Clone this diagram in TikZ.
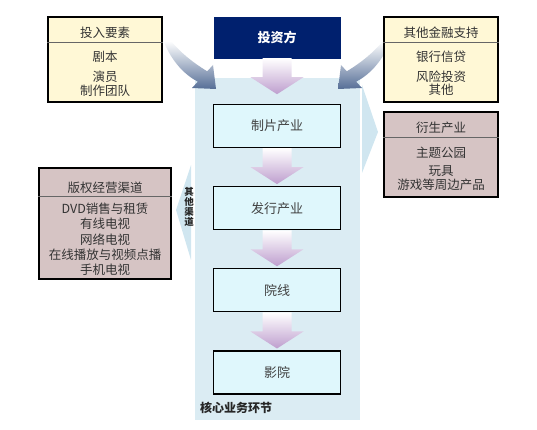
\documentclass[tikz,border=0pt]{standalone}
\usepackage{fontspec}
\setmainfont{Noto Sans CJK SC}
\usetikzlibrary{calc,chains,positioning}

\definecolor{investfill}{RGB}{0,32,110}
\definecolor{regionfill}{RGB}{219,236,243}
\definecolor{chevfill}{RGB}{208,230,240}
\definecolor{corefill}{RGB}{223,247,252}
\definecolor{creamfill}{RGB}{255,248,214}
\definecolor{mauvefill}{RGB}{214,196,196}
\definecolor{flowpurple}{RGB}{190,158,206}
\definecolor{bendblue}{RGB}{85,110,150}

\begin{document}
\begin{tikzpicture}[
            x=1pt, y=1pt,
            start chain = going below,
            node distance = 38pt,
            CoreBox/.style={draw, line width=1.2pt, fill=corefill, text=black!75, minimum width=127pt, minimum height=43pt, font=\fontsize{13}{15}\selectfont, on chain},
            SideBox/.style={draw, line width=1.2pt, minimum width=114pt, minimum height=85pt},
            BoxText/.style={inner sep=0pt, text=black!80, font=\fontsize{12.5}{15}\selectfont},
            HeadLine/.style={draw=black!60, line width=0.6pt},
            FlowArrow/.style={top color=white, bottom color=flowpurple},
            BendArrow/.style={top color=white, bottom color=bendblue},
            ]
            \useasboundingbox (0,0) rectangle (537,430);

            % core region
            \node[fill=regionfill, minimum width=165pt, minimum height=342pt, inner sep=0pt] (core) at (277.5,181) {};
            \node[anchor=west, inner sep=0pt, text=black!85, font=\fontsize{12}{14}\selectfont\bfseries] (corelabel) at ([xshift=5pt, yshift=12pt]core.south west) {核心业务环节};

            % side chevrons
            \fill[chevfill] (191,265) -- (176,220) -- (191,170) -- cycle;
            \fill[chevfill] (362,345) -- (378,298) -- (362,257) -- cycle;
            \node[inner sep=0pt, align=center, text=black!85, font=\fontsize{9.5}{10}\selectfont\bfseries] (otherchan) at (189,223) {其\\他\\渠\\道};

            % bent arrows into the core
            \shade[BendArrow] (164,388) .. controls (172,368) and (185,355) .. (197.8,348.3) -- (192,342) -- (216,341) -- (213,365) -- (207.2,358.7) .. controls (192,368) and (180,378) .. (171,389) -- cycle;
            \shade[BendArrow] (390,388) .. controls (382,368) and (369,355) .. (356.2,348.3) -- (362,342) -- (338,341) -- (341,365) -- (346.8,358.7) .. controls (362,368) and (374,378) .. (383,389) -- cycle;

            % investor and core chain
            \node[fill=investfill, draw=investfill, minimum width=126pt, minimum height=41pt, text=white, font=\fontsize{13}{15}\selectfont\bfseries] (touzi) at (277,392.5) {投资方};
            \node[CoreBox] (zhipian) at (277,304) {制片产业};
            \node[CoreBox] (faxing) {发行产业};
            \node[CoreBox] (yuanxian) {院线};
            \node[CoreBox] (yingyuan) {影院};

            \foreach \a/\b in {touzi/zhipian, zhipian/faxing, faxing/yuanxian, yuanxian/yingyuan}
                \shade[FlowArrow] ($(\a.south)+(-14.5,0)$) -- ($(\a.south)+(14.5,0)$) -- ($(\a.south)+(14.5,-19)$) -- ($(\a.south)+(26.5,-19)$)
                    -- ($(\a.south)!36pt!(\b.north)$) -- ($(\a.south)+(-26.5,-19)$) -- ($(\a.south)+(-14.5,-19)$) -- cycle;

            % input factors
            \node[SideBox, fill=creamfill] (touru) at (105,370.5) {};
            \draw[HeadLine] ([yshift=-26pt]touru.north west) -- ([yshift=-26pt]touru.north east);
            \node[BoxText] (touru-h) at ([yshift=-16pt]touru.north) {投入要素};
            \node[BoxText] (touru-1) at ([yshift=-40pt]touru.north) {剧本};
            \node[BoxText] (touru-2) at ([yshift=-60pt]touru.north) {演员};
            \node[BoxText] (touru-3) at ([yshift=-74pt]touru.north) {制作团队};

            % other finance
            \node[SideBox, fill=creamfill] (jinrong) at (441,370.5) {};
            \draw[HeadLine] ([yshift=-26pt]jinrong.north west) -- ([yshift=-26pt]jinrong.north east);
            \node[BoxText] (jinrong-h) at ([yshift=-16pt]jinrong.north) {其他金融支持};
            \node[BoxText] (jinrong-1) at ([yshift=-40pt]jinrong.north) {银行信贷};
            \node[BoxText] (jinrong-2) at ([yshift=-60pt]jinrong.north) {风险投资};
            \node[BoxText] (jinrong-3) at ([yshift=-73pt]jinrong.north) {其他};

            % derived industries
            \node[SideBox, fill=mauvefill] (yansheng) at (441,275.5) {};
            \draw[HeadLine] ([yshift=-26pt]yansheng.north west) -- ([yshift=-26pt]yansheng.north east);
            \node[BoxText] (yansheng-h) at ([yshift=-16pt]yansheng.north) {衍生产业};
            \node[BoxText] (yansheng-1) at ([yshift=-41pt]yansheng.north) {主题公园};
            \node[BoxText] (yansheng-2) at ([yshift=-60pt]yansheng.north) {玩具};
            \node[BoxText] (yansheng-3) at ([yshift=-73pt]yansheng.north) {游戏等周边产品};

            % copyright channels
            \node[SideBox, fill=mauvefill, minimum width=132pt, minimum height=111pt] (banquan) at (105,206.5) {};
            \draw[HeadLine] ([yshift=-29pt]banquan.north west) -- ([yshift=-29pt]banquan.north east);
            \node[BoxText] (banquan-h) at ([yshift=-20pt]banquan.north) {版权经营渠道};
            \node[BoxText] (banquan-1) at ([yshift=-41pt]banquan.north) {DVD销售与租赁};
            \node[BoxText] (banquan-2) at ([yshift=-56pt]banquan.north) {有线电视};
            \node[BoxText] (banquan-3) at ([yshift=-72pt]banquan.north) {网络电视};
            \node[BoxText] (banquan-4) at ([yshift=-87pt]banquan.north) {在线播放与视频点播};
            \node[BoxText] (banquan-5) at ([yshift=-102pt]banquan.north) {手机电视};

        \end{tikzpicture}
\end{document}
